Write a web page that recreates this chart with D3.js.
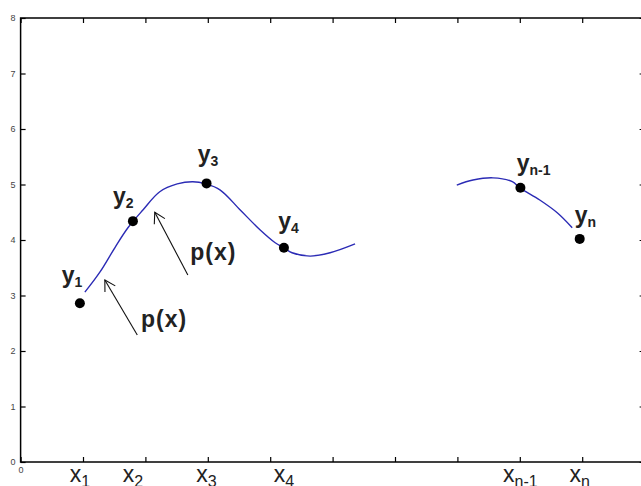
<!DOCTYPE html>
<html>
<head>
<meta charset="utf-8">
<script src="https://cdn.jsdelivr.net/npm/d3@7"></script>
<style>
	body { margin: 0; background: #fff; }
	svg { display: block; }
</style>
</head>
<body>
<svg id="svg" width="641" height="486"></svg>
<script>
"use strict";

// axis ticks
const xTickValues = [0, 1, 2, 3, 4, 5, 6, 7, 8, 9, 10];
const xTickLabels = ["0", "", "", "", "", "", "", "", "", "", ""];
const yTickValues = [0, 1, 2, 3, 4, 5, 6, 7, 8];

// data nodes (x_i, y_i)
const nodeX = [0.95, 1.8, 2.98, 4.22, 8.01, 8.96];
const nodeY = [2.86, 4.34, 5.02, 3.86, 4.94, 4.02];
const nodeSub = ["1", "2", "3", "4", "n-1", "n"];
// y-label anchor (left, baseline) in data units
const labelX = [0.66, 1.48, 2.84, 4.13, 7.95, 8.88];
const labelY = [3.23, 4.65, 5.4, 4.2, 5.24, 4.3];

// interpolating curve p(x), two visible pieces
const curveA = [
	[1.03, 3.06], [1.27, 3.42], [1.51, 3.86], [1.72, 4.22], [1.96, 4.54],
	[2.23, 4.87], [2.51, 5.01], [2.76, 5.05], [2.97, 5.01], [3.2, 4.9],
	[3.52, 4.54], [3.84, 4.18], [4.08, 3.95], [4.22, 3.86], [4.35, 3.77],
	[4.64, 3.71], [4.96, 3.77], [5.36, 3.93]
];
const curveB = [
	[6.99, 4.99], [7.25, 5.08], [7.57, 5.12], [7.88, 5.05], [8.0, 4.94],
	[8.32, 4.72], [8.6, 4.49], [8.84, 4.22]
];

// "p(x)" annotations: arrow tip, arrow tail, text anchor
const arrowTip = [[1.35, 3.28], [2.15, 4.5]];
const arrowTail = [[1.87, 2.29], [2.68, 3.37]];
const pxText = [[1.93, 2.43], [2.72, 3.64]];

const svg = d3.select("#svg");

const x = d3.scaleLinear().domain([0, 10]).range([20.6, 644.6]);
const y = d3.scaleLinear().domain([0, 8]).range([462, 18]);

const font = "'Liberation Sans', Arial, sans-serif";
const tickCol = "#444";

// axes, ticks pointing inward
function styleAxis(g) {
	g.select(".domain").remove();
	g.selectAll(".tick line").attr("stroke", "#000").attr("stroke-width", 1.2);
	g.selectAll(".tick text")
		.attr("fill", tickCol)
		.style("font-family", font)
		.style("font-size", "9px");
}

svg.append("g")
	.attr("transform", `translate(0,${y(0)})`)
	.call(d3.axisBottom(x).tickValues(xTickValues).tickSizeInner(-5).tickSizeOuter(0)
		.tickPadding(5).tickFormat((d, i) => xTickLabels[i]))
	.call(styleAxis);

svg.append("g")
	.attr("transform", `translate(0,${y(8)})`)
	.call(d3.axisTop(x).tickValues(xTickValues).tickSizeInner(-5).tickSizeOuter(0)
		.tickFormat(""))
	.call(styleAxis);

svg.append("g")
	.attr("transform", `translate(${x(0)},0)`)
	.call(d3.axisLeft(y).tickValues(yTickValues).tickSizeInner(-5).tickSizeOuter(0)
		.tickPadding(5).tickFormat(d3.format("d")))
	.call(styleAxis);

svg.append("g")
	.attr("transform", `translate(${x(10)},0)`)
	.call(d3.axisRight(y).tickValues(yTickValues).tickSizeInner(-5).tickSizeOuter(0)
		.tickFormat(""))
	.call(styleAxis);

// frame
svg.append("rect")
	.attr("x", x(0))
	.attr("y", y(8))
	.attr("width", x(10) - x(0))
	.attr("height", y(0) - y(8))
	.attr("fill", "none")
	.attr("stroke", "#000")
	.attr("stroke-width", 1.5);

// curve pieces
const line = d3.line()
	.x((d) => x(d[0]))
	.y((d) => y(d[1]))
	.curve(d3.curveCatmullRom);

svg.selectAll(".piece")
	.data([curveA, curveB])
	.enter()
	.append("path")
	.attr("class", "piece")
	.attr("d", line)
	.attr("fill", "none")
	.attr("stroke", "#2b2bb5")
	.attr("stroke-width", 1.4);

// nodes
svg.selectAll(".node")
	.data(nodeX)
	.enter()
	.append("circle")
	.attr("class", "node")
	.attr("cx", (d) => x(d))
	.attr("cy", (d, i) => y(nodeY[i]))
	.attr("r", 5)
	.attr("fill", "#000");

// y_i labels
const yLab = svg.selectAll(".ylab")
	.data(nodeSub)
	.enter()
	.append("text")
	.attr("class", "ylab")
	.attr("x", (d, i) => x(labelX[i]))
	.attr("y", (d, i) => y(labelY[i]))
	.attr("fill", "#222")
	.style("font-family", font)
	.style("font-weight", "bold");
yLab.append("tspan").text("y").style("font-size", "23px");
yLab.append("tspan").text((d) => d).attr("dy", 4).style("font-size", "14px");

// x_i labels under the axis
const xLab = svg.selectAll(".xlab")
	.data(nodeSub)
	.enter()
	.append("text")
	.attr("class", "xlab")
	.attr("x", (d, i) => x(nodeX[i]))
	.attr("y", 482)
	.attr("text-anchor", "middle")
	.attr("fill", "#222")
	.style("font-family", font);
xLab.append("tspan").text("x").style("font-size", "23px");
xLab.append("tspan").text((d) => d).attr("dy", 5).style("font-size", "16px");

// p(x) arrows
const barb = 12, ang = Math.PI / 6;
arrowTip.forEach((tip, i) => {
	const tx = x(tip[0]), ty = y(tip[1]);
	const sx = x(arrowTail[i][0]), sy = y(arrowTail[i][1]);
	const a = Math.atan2(sy - ty, sx - tx);
	const g = svg.append("g")
		.attr("stroke", "#111")
		.attr("stroke-width", 1.1)
		.attr("fill", "none");
	g.append("line").attr("x1", sx).attr("y1", sy).attr("x2", tx).attr("y2", ty);
	g.append("path")
		.attr("d", `M${tx + barb * Math.cos(a - ang)},${ty + barb * Math.sin(a - ang)}L${tx},${ty}L${tx + barb * Math.cos(a + ang)},${ty + barb * Math.sin(a + ang)}`);
	svg.append("text")
		.attr("x", x(pxText[i][0]))
		.attr("y", y(pxText[i][1]))
		.attr("fill", "#222")
		.style("font-family", font)
		.style("font-size", "23px")
		.style("font-weight", "bold")
		.style("letter-spacing", "1px")
		.text("p(x)");
});
</script>
</body>
</html>
